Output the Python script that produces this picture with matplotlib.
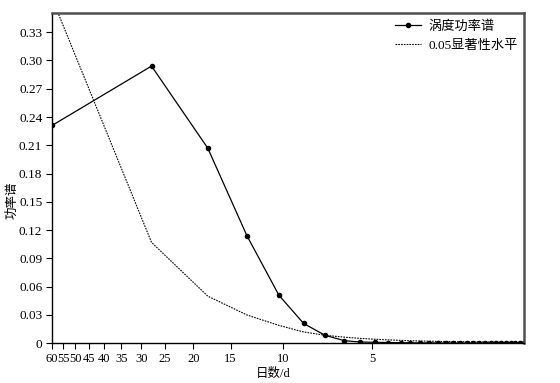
import matplotlib
matplotlib.use("Agg")
import matplotlib.pyplot as plt
from matplotlib.ticker import FixedLocator, FixedFormatter, NullLocator

plt.rcParams['font.family'] = ['Liberation Serif', 'Noto Sans CJK SC']

# periods (days) of the spectral estimates
periods = [60, 27.7, 17.9, 13.2, 10.3, 8.5, 7.2, 6.2, 5.5, 4.9, 4.4, 4.0,
           3.71, 3.44, 3.205, 3.00, 2.82, 2.66, 2.52, 2.39, 2.276, 2.171,
           2.075, 1.988, 1.907, 1.833, 1.765, 1.701, 1.642, 1.586, 1.535]
power = [0.231, 0.294, 0.207, 0.114, 0.051, 0.021, 0.0085, 0.0028, 0.0014,
         0.0010, 0.0008, 0.0006, 0.0005, 0.0004, 0.0004, 0.0003, 0.0003,
         0.0003, 0.0002, 0.0002, 0.0002, 0.0002, 0.0002, 0.0001, 0.0001,
         0.0001, 0.0001, 0.0001, 0.0001, 0.0001, 0.0001]
signif = [0.366, 0.107, 0.050, 0.030, 0.019, 0.012, 0.0085, 0.0065, 0.0052,
          0.0043, 0.0036, 0.0031, 0.0027, 0.0024, 0.0022, 0.0020, 0.0019,
          0.0018, 0.0017, 0.0016, 0.0015, 0.0015, 0.0014, 0.0014, 0.0013,
          0.0013, 0.0012, 0.0012, 0.0012, 0.0011, 0.0011]

xticks = [60, 55, 50, 45, 40, 35, 30, 25, 20, 15, 10, 5]
yticks = [0, 0.03, 0.06, 0.09, 0.12, 0.15, 0.18, 0.21, 0.24, 0.27, 0.30, 0.33]
ylabels = ['0', '0.03', '0.06', '0.09', '0.12', '0.15', '0.18', '0.21',
           '0.24', '0.27', '0.30', '0.33']

fig = plt.figure(figsize=(5.6, 3.83), dpi=100)
ax = fig.add_axes([0.0929, 0.1037, 0.8428, 0.8616])

ax.plot(periods, power, color='black', lw=0.9, marker='o', markersize=3,
        label='涡度功率谱', clip_on=True)
ax.plot(periods, signif, color='black', lw=0.8, linestyle=(0, (1.5, 1)),
        label='0.05显著性水平')

ax.set_xscale('log')
ax.set_xlim(60, 1.535)
ax.set_ylim(0, 0.35)

ax.xaxis.set_major_locator(FixedLocator(xticks))
ax.xaxis.set_major_formatter(FixedFormatter([str(t) for t in xticks]))
ax.xaxis.set_minor_locator(NullLocator())
ax.yaxis.set_major_locator(FixedLocator(yticks))
ax.yaxis.set_major_formatter(FixedFormatter(ylabels))

ax.tick_params(axis='both', direction='out', length=4, width=0.8,
               labelsize=9, colors='black', pad=3)
ax.tick_params(axis='y', labelsize=9.5)
ax.tick_params(top=False, right=False)

for s in ['left', 'bottom']:
    ax.spines[s].set_linewidth(1.0)
    ax.spines[s].set_color('black')
for s in ['top', 'right']:
    ax.spines[s].set_linewidth(1.8)
    ax.spines[s].set_color('#505050')

ax.set_xlabel('日数/d', fontsize=9, labelpad=2)
ax.xaxis.set_label_coords(0.468, -0.075)
ax.set_ylabel('功率谱', fontsize=9, labelpad=2)
ax.yaxis.set_label_coords(-0.072, 0.434)

leg = ax.legend(loc='upper right', frameon=False, fontsize=9.5,
                handlelength=2.0, handletextpad=0.5, labelspacing=0.55,
                borderaxespad=0.1)

fig.savefig('out.png', dpi=100)
